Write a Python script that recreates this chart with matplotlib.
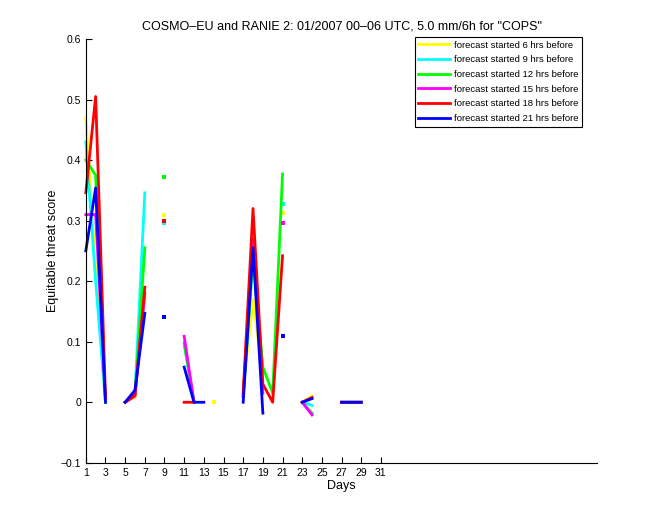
import matplotlib
matplotlib.use('Agg')
import matplotlib.pyplot as plt
import numpy as np

nan = np.nan
days = np.arange(1, 32)

# equitable threat score per day, one list per forecast start
ets_6h = [0.47, 0.22, 0.0, nan, 0.0, 0.008, 0.175, nan, 0.31, nan,
          nan, nan, nan, 0.0, nan, nan, 0.02, 0.17, 0.04, nan,
          0.313, nan, 0.0, 0.01, nan, nan, 0.0, 0.0, 0.0, nan, nan]
ets_9h = [0.43, 0.20, 0.0, nan, 0.0, 0.015, 0.346, nan, 0.296, nan,
          0.095, 0.0, nan, nan, nan, nan, 0.01, 0.24, 0.05, nan,
          0.328, nan, 0.0, -0.005, nan, nan, 0.0, 0.0, 0.0, nan, nan]
ets_12h = [0.40, 0.375, 0.0, nan, 0.0, 0.012, 0.255, nan, 0.372, nan,
           0.098, 0.0, nan, nan, nan, nan, 0.01, 0.24, 0.058, 0.015,
           0.377, nan, 0.0, -0.018, nan, nan, 0.0, 0.0, 0.0, nan, nan]
ets_15h = [0.31, 0.31, 0.005, nan, 0.0, 0.01, 0.18, nan, 0.30, nan,
           0.109, 0.0, nan, nan, nan, nan, 0.01, 0.27, 0.015, nan,
           0.296, nan, 0.0, -0.021, nan, nan, 0.0, 0.0, 0.0, nan, nan]
ets_18h = [0.346, 0.505, 0.01, nan, 0.0, 0.012, 0.19, nan, 0.30, nan,
           0.0, 0.0, nan, nan, nan, nan, 0.015, 0.32, 0.03, 0.0,
           0.242, nan, 0.0, 0.008, nan, nan, 0.0, 0.0, 0.0, nan, nan]
ets_21h = [0.25, 0.354, 0.0, nan, 0.0, 0.02, 0.147, nan, 0.14, nan,
           0.058, 0.0, 0.0, nan, nan, nan, 0.0, 0.255, -0.018, nan,
           0.11, nan, 0.0, 0.006, nan, nan, 0.0, 0.0, 0.0, nan, nan]

series = [ets_6h, ets_9h, ets_12h, ets_15h, ets_18h, ets_21h]
labels = ['forecast started 6 hrs before', 'forecast started 9 hrs before',
          'forecast started 12 hrs before', 'forecast started 15 hrs before',
          'forecast started 18 hrs before', 'forecast started 21 hrs before']
colors = ['#ffff00', '#00ffff', '#00ff00', '#ff00ff', '#ff0000', '#0000ff']

plt.rcParams['font.family'] = ['Liberation Sans', 'DejaVu Sans']

fig = plt.figure(figsize=(6.6, 5.2), dpi=100)
ax = fig.add_axes([0.13, 0.11, 0.775, 0.815])

for vals, lab, col in zip(series, labels, colors):
    v = np.array(vals, dtype=float)
    ax.plot(days, v, color=col, lw=2, label=lab, clip_on=False)
    # single days with no neighbours would vanish as a line, show them as dots
    padded = np.concatenate([[nan], v, [nan]])
    lonely = ~np.isnan(v) & np.isnan(padded[:-2]) & np.isnan(padded[2:])
    ax.plot(days[lonely], v[lonely], ls='none', marker='s', markersize=3,
            markeredgewidth=0, color=col)

ax.set_xlim(1, 53)
ax.set_ylim(-0.1, 0.6)
ax.set_xticks(np.arange(1, 32, 2))
ax.set_yticks(np.round(np.arange(-0.1, 0.61, 0.1), 1))
ax.set_yticklabels(['\u22120.1', '0', '0.1', '0.2', '0.3', '0.4', '0.5', '0.6'])
ax.tick_params(direction='in', length=4, labelsize=7.5, width=0.8)
ax.spines['top'].set_visible(False)
ax.spines['right'].set_visible(False)

ax.set_xlabel('Days', fontsize=9, labelpad=2)
ax.set_ylabel('Equitable threat score', fontsize=9, labelpad=1)
ax.set_title('COSMO\u2013EU and RANIE 2: 01/2007 00\u201306 UTC, 5.0 mm/6h for "COPS"',
             fontsize=9, pad=7)

leg = ax.legend(loc='upper right', bbox_to_anchor=(0.971, 1.005), fontsize=6.8,
                handlelength=3.4, fancybox=False, framealpha=1, edgecolor='black',
                borderaxespad=0, labelspacing=0.6, handletextpad=0.4)
leg.get_frame().set_linewidth(0.8)

fig.savefig('out.png', dpi=100)
